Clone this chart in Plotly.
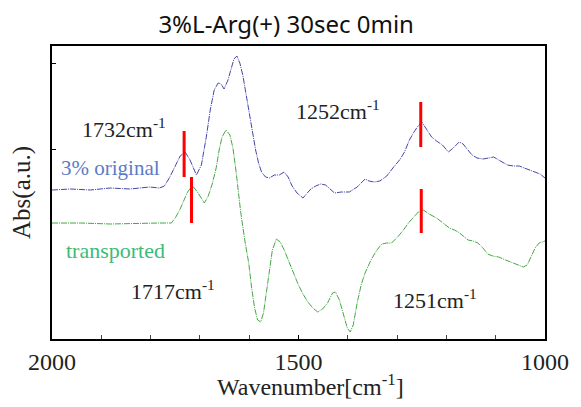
import plotly.graph_objects as go

# ---- data ----
orig_wn = [2000, 1962, 1922, 1882, 1842, 1802, 1782, 1772, 1762, 1750, 1740, 1730, 1720, 1707, 1697,
           1687, 1679, 1671, 1663, 1657, 1651, 1643, 1637, 1631, 1625, 1619, 1613, 1607, 1601, 1593,
           1587, 1581, 1575, 1567, 1559, 1549, 1539, 1529, 1521, 1513, 1503, 1491, 1483, 1475, 1465,
           1455, 1445, 1435, 1427, 1413, 1397, 1381, 1365, 1357, 1347, 1335, 1321, 1307, 1295, 1285,
           1275, 1267, 1259, 1250, 1240, 1230, 1220, 1208, 1196, 1186, 1174, 1166, 1158, 1148, 1138,
           1126, 1114, 1104, 1094, 1086, 1076, 1064, 1052, 1042, 1030, 1020, 1010, 1000]
orig_abs = [1.48, 1.49, 1.48, 1.50, 1.49, 1.51, 1.50, 1.52, 1.60, 1.72, 1.82, 1.86, 1.78, 1.63, 1.73,
            2.01, 2.28, 2.48, 2.55, 2.54, 2.49, 2.58, 2.68, 2.79, 2.82, 2.75, 2.63, 2.46, 2.25, 2.03,
            1.88, 1.75, 1.66, 1.61, 1.60, 1.63, 1.63, 1.66, 1.61, 1.52, 1.45, 1.40, 1.45, 1.49, 1.52,
            1.54, 1.53, 1.48, 1.45, 1.46, 1.46, 1.51, 1.59, 1.57, 1.56, 1.57, 1.62, 1.71, 1.78, 1.86,
            1.98, 2.05, 2.11, 2.16, 2.09, 2.01, 1.97, 1.93, 1.86, 1.90, 1.96, 1.94, 1.89, 1.83, 1.80,
            1.79, 1.80, 1.81, 1.78, 1.76, 1.73, 1.72, 1.72, 1.70, 1.68, 1.66, 1.64, 1.60]

trans_wn = [2000, 1942, 1882, 1822, 1782, 1758, 1750, 1741, 1733, 1725, 1719, 1713, 1705, 1697, 1691,
            1683, 1675, 1667, 1661, 1655, 1647, 1639, 1633, 1627, 1623, 1617, 1609, 1601, 1595, 1589,
            1583, 1577, 1571, 1565, 1559, 1553, 1545, 1537, 1529, 1521, 1511, 1501, 1491, 1481, 1471,
            1461, 1451, 1441, 1431, 1425, 1417, 1409, 1401, 1395, 1389, 1381, 1373, 1365, 1353, 1341,
            1331, 1321, 1311, 1299, 1287, 1277, 1267, 1257, 1247, 1235, 1220, 1206, 1194, 1184, 1176,
            1166, 1156, 1146, 1136, 1126, 1116, 1106, 1094, 1080, 1066, 1054, 1044, 1036, 1028, 1020,
            1012, 1000]
trans_abs = [1.15, 1.15, 1.14, 1.15, 1.15, 1.15, 1.20, 1.28, 1.37, 1.46, 1.50, 1.51, 1.46, 1.39, 1.35,
             1.42, 1.54, 1.70, 1.88, 2.01, 2.08, 2.03, 1.90, 1.68, 1.48, 1.25, 0.98, 0.75, 0.50, 0.30,
             0.18, 0.16, 0.25, 0.45, 0.68, 0.88, 0.99, 0.96, 0.88, 0.78, 0.65, 0.54, 0.44, 0.36, 0.30,
             0.26, 0.29, 0.35, 0.45, 0.46, 0.38, 0.23, 0.10, 0.06, 0.13, 0.35, 0.53, 0.65, 0.78, 0.88,
             0.94, 0.95, 0.95, 1.01, 1.08, 1.15, 1.21, 1.26, 1.28, 1.24, 1.20, 1.15, 1.10, 1.08, 1.06,
             1.02, 0.98, 0.97, 0.95, 0.90, 0.84, 0.82, 0.81, 0.78, 0.75, 0.73, 0.71, 0.73, 0.81, 0.90,
             0.95, 0.97]

peak_wn = [1732, 1717, 1252, 1251]
peak_lo = [1.61, 1.15, 1.91, 1.05]
peak_hi = [2.07, 1.61, 2.36, 1.49]

label_texts = ["1732cm<sup>-1</sup>", "1717cm<sup>-1</sup>", "1252cm<sup>-1</sup>", "1251cm<sup>-1</sup>"]
label_wn = [1854, 1754, 1419, 1224]
label_abs = [2.10, 0.48, 2.28, 0.39]

x_tick_vals = [2000, 1500, 1000]
y_tick_vals = [1.89, 2.75]

serif = "Liberation Serif"

fig = go.Figure()
fig.add_trace(go.Scatter(x=orig_wn, y=orig_abs, mode="lines",
                         line=dict(color="#4646A8", width=1, dash="6px,1px,1px,1px"),
                         showlegend=False))
fig.add_trace(go.Scatter(x=trans_wn, y=trans_abs, mode="lines",
                         line=dict(color="#45A845", width=1, dash="6px,1px,1px,1px"),
                         showlegend=False))
rx, ry = [], []
for w, lo, hi in zip(peak_wn, peak_lo, peak_hi):
    rx += [w, w, None]
    ry += [lo, hi, None]
fig.add_trace(go.Scatter(x=rx, y=ry, mode="lines", line=dict(color="#FF0000", width=3),
                         showlegend=False))

for t, w, a in zip(label_texts, label_wn, label_abs):
    fig.add_annotation(x=w, y=a, text=t, showarrow=False, xanchor="center",
                       font=dict(family=serif, size=22, color="#222222"))
fig.add_annotation(x=1882, y=1.70, text="3% original", showarrow=False, xanchor="center",
                   font=dict(family=serif, size=21, color="#5B7BC8"))
fig.add_annotation(x=1872, y=0.88, text="transported", showarrow=False, xanchor="center",
                   font=dict(family=serif, size=22, color="#3DBB78"))

fig.add_annotation(xref="paper", yref="paper", x=0.525, y=-0.158, xanchor="center", yanchor="middle",
                   text="Wavenumber[cm<sup>-1</sup>]", showarrow=False,
                   font=dict(family=serif, size=24, color="#222222"))
fig.add_annotation(xref="paper", yref="paper", x=-0.062, y=0.5, textangle=-90,
                   xanchor="center", yanchor="middle",
                   text="Abs(a.u.)", showarrow=False,
                   font=dict(family=serif, size=25, color="#222222"))

fig.update_layout(
    width=581, height=407,
    margin=dict(l=52, r=30, t=46, b=68),
    paper_bgcolor="white", plot_bgcolor="white",
    title=dict(text="3%L-Arg(+) 30sec 0min", x=0.475, xanchor="center", xref="paper",
               y=0.94, yanchor="middle",
               font=dict(family="Noto Sans", size=24, color="#111111")),
    xaxis=dict(range=[2000, 1000], tickvals=x_tick_vals, ticks="inside", ticklen=4,
               tickcolor="black", showgrid=False, zeroline=False,
               showline=True, linecolor="black", linewidth=2, mirror=True,
               tickfont=dict(family=serif, size=24, color="#222222"),
               minor=dict(dtick=100, tick0=1000, ticks="inside", ticklen=4, tickcolor="#444444", showgrid=False)),
    yaxis=dict(range=[-0.01, 2.92], tickvals=y_tick_vals, ticks="inside", ticklen=4,
               tickcolor="black", showticklabels=False, showgrid=False, zeroline=False,
               showline=True, linecolor="black", linewidth=2, mirror=True),
)

fig.write_html("out.html", config={"displayModeBar": False},
               post_script="document.body.style.margin='0';document.body.style.overflow='hidden';")
